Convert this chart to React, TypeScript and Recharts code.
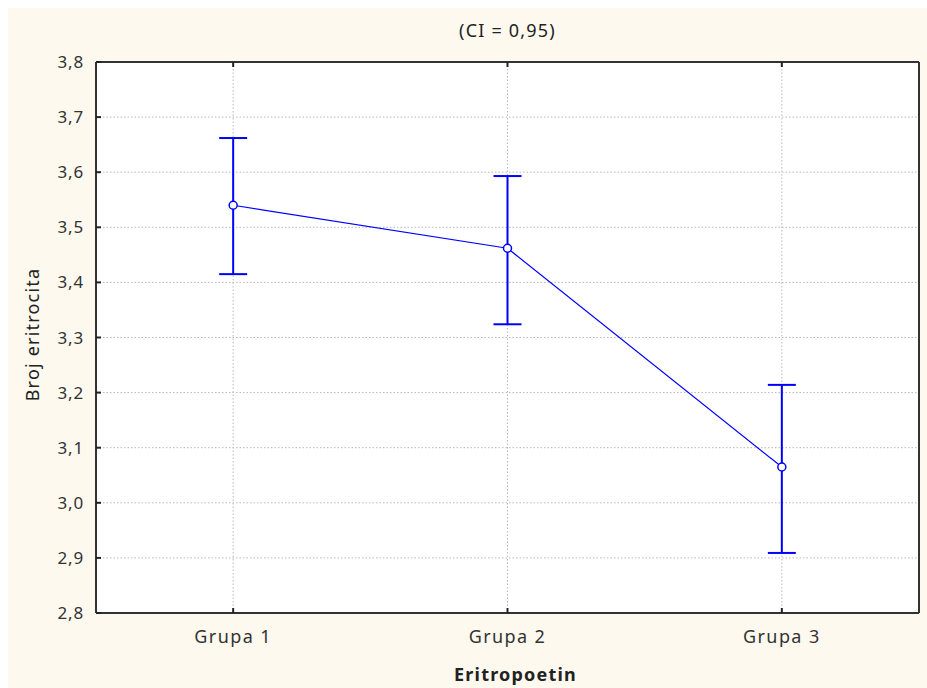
import { ComposedChart, Line, ErrorBar, XAxis, YAxis, CartesianGrid, Label } from 'recharts';

const groups = ['Grupa 1', 'Grupa 2', 'Grupa 3'];
const means = [3.54, 3.462, 3.065];
const lower = [3.415, 3.324, 2.909];
const upper = [3.662, 3.593, 3.214];
const yTicks = [2.8, 2.9, 3.0, 3.1, 3.2, 3.3, 3.4, 3.5, 3.6, 3.7, 3.8];

const data = groups.map((g, i) => ({
  group: g,
  mean: means[i],
  ci: [means[i] - lower[i], upper[i] - means[i]],
}));

const font = '"Noto Sans", "DejaVu Sans", sans-serif';
const fmt = (v: number) => v.toFixed(1).replace('.', ',');

const LeftTick = (props: any) => {
  const { x, y, payload } = props;
  return (
    <g>
      <line x1={x} y1={y} x2={x + 5} y2={y} stroke="#222" strokeWidth={2} />
      <text x={x - 12} y={y} dy={6} textAnchor="end" fontSize={17} letterSpacing={0.8} fill="#333" fontFamily={font}>
        {fmt(payload.value)}
      </text>
    </g>
  );
};

const RightTick = (props: any) => {
  const { x, y } = props;
  return <line x1={x} y1={y} x2={x - 5} y2={y} stroke="#222" strokeWidth={2} />;
};

const BottomTick = (props: any) => {
  const { x, y, payload } = props;
  return (
    <g>
      <line x1={x} y1={y} x2={x} y2={y - 5} stroke="#222" strokeWidth={2} />
      <text x={x} y={y + 30} textAnchor="middle" fontSize={18} letterSpacing={1.4} fill="#333" fontFamily={font}>
        {payload.value}
      </text>
    </g>
  );
};

const TopTick = (props: any) => {
  const { x, y } = props;
  return <line x1={x} y1={y} x2={x} y2={y + 5} stroke="#222" strokeWidth={2} />;
};

export default function App() {
  return (
    <div style={{ position: 'fixed', left: 8, top: 8, width: 919, height: 680, background: '#fdf9ef' }}>
      <ComposedChart width={919} height={680} data={data} margin={{ top: 53, right: 7, bottom: 25, left: 0 }}>
        <CartesianGrid stroke="#b8b8b8" strokeDasharray="1.5 2" fill="#ffffff" />
        <XAxis
          dataKey="group"
          scale="band"
          height={50}
          axisLine={{ stroke: '#333', strokeWidth: 2 }}
          tickLine={false}
          tickSize={0}
          tickMargin={0}
          tick={<BottomTick />}
        >
          <Label value="Eritropoetin" position="bottom" offset={5} dx={8} fontSize={18} letterSpacing={1.2} fontWeight="bold" fill="#222" fontFamily={font} />
        </XAxis>
        <XAxis
          xAxisId="t"
          dataKey="group"
          scale="band"
          orientation="top"
          height={1}
          axisLine={{ stroke: '#333', strokeWidth: 2 }}
          tickLine={false}
          tickSize={0}
          tickMargin={0}
          tick={<TopTick />}
        >
          <Label value="(CI = 0,95)" position="top" offset={24} fontSize={18} letterSpacing={1.2} fill="#222" fontFamily={font} />
        </XAxis>
        <YAxis
          domain={[2.8, 3.8]}
          ticks={yTicks}
          width={88}
          axisLine={{ stroke: '#333', strokeWidth: 2 }}
          tickLine={false}
          tickSize={0}
          tickMargin={0}
          tick={<LeftTick />}
        >
          <Label value="Broj eritrocita" angle={-90} position="center" dx={-19} dy={-3} fontSize={18} letterSpacing={1.2} fill="#222" fontFamily={font} />
        </YAxis>
        <YAxis
          yAxisId="r"
          orientation="right"
          domain={[2.8, 3.8]}
          ticks={yTicks}
          width={1}
          axisLine={{ stroke: '#333', strokeWidth: 2 }}
          tickLine={false}
          tickSize={0}
          tickMargin={0}
          tick={<RightTick />}
        />
        <Line
          dataKey="mean"
          stroke="#0000ff"
          strokeWidth={1.2}
          dot={{ r: 4, fill: '#fff', stroke: '#0000ff', strokeWidth: 1.5 }}
          activeDot={false}
          isAnimationActive={false}
        >
          <ErrorBar dataKey="ci" width={14} stroke="#0000ff" strokeWidth={2} direction="y" />
        </Line>
      </ComposedChart>
    </div>
  );
}
